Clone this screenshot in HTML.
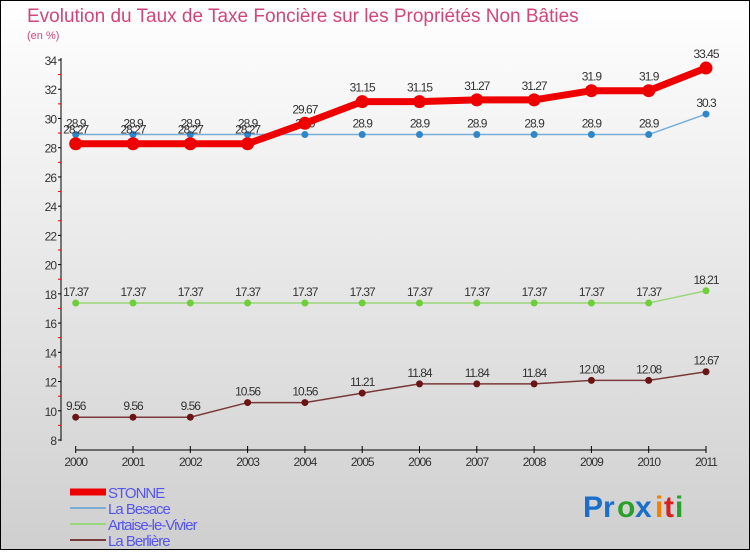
<!DOCTYPE html>
<html><head><meta charset="utf-8"><style>
body{margin:0;width:750px;height:550px;overflow:hidden;font-family:"Liberation Sans",sans-serif}
</style></head><body>
<svg width="750" height="550" xmlns="http://www.w3.org/2000/svg">
<defs><linearGradient id="bg" x1="0" y1="0" x2="0" y2="1"><stop offset="0" stop-color="#ffffff"/><stop offset="1" stop-color="#cfcfcf"/></linearGradient></defs>
<rect x="0.5" y="0.5" width="749" height="549" fill="url(#bg)" stroke="#000"/>
<text x="27" y="22" font-size="19" fill="#d2457a">Evolution du Taux de Taxe Foncière sur les Propriétés Non Bâties</text>
<text x="27" y="39" font-size="11" fill="#d2457a">(en %)</text>
<g id="axes"></g><g id="series"></g><g id="legend"></g>
<g font-size="30" font-weight="bold">
<text x="583" y="517" fill="#1a6fc9">Pr</text><text x="617" y="517" fill="#2aa02a">o</text><text x="635" y="517" fill="#1a6fc9">x</text><text x="655" y="517" fill="#f07f00">i</text><text x="664" y="517" fill="#d62020">t</text><text x="675" y="517" fill="#2aa02a">i</text>
</g>
</svg>
<script>
const years=[2000,2001,2002,2003,2004,2005,2006,2007,2008,2009,2010,2011];
const stonne=[28.27,28.27,28.27,28.27,29.67,31.15,31.15,31.27,31.27,31.9,31.9,33.45];
const besace=[28.9,28.9,28.9,28.9,28.9,28.9,28.9,28.9,28.9,28.9,28.9,30.3];
const artaise=[17.37,17.37,17.37,17.37,17.37,17.37,17.37,17.37,17.37,17.37,17.37,18.21];
const berliere=[9.56,9.56,9.56,10.56,10.56,11.21,11.84,11.84,11.84,12.08,12.08,12.67];
const yTicks=[8,10,12,14,16,18,20,22,24,26,28,30,32,34];
const NS="http://www.w3.org/2000/svg";
const X=i=>75.7+i*57.3, Y=v=>440-(v-8)*380/26;
function mk(t,a,p){const e=document.createElementNS(NS,t);for(const k in a)e.setAttribute(k,a[k]);p.appendChild(e);return e;}
const ax=document.getElementById('axes');
let l=mk('line',{x1:61,y1:58,x2:61,y2:441,stroke:'#000','stroke-width':1},ax);


yTicks.forEach(v=>{mk('line',{x1:58,x2:61,y1:Y(v),y2:Y(v),stroke:'#000'},ax);
 if(v<34)mk('line',{x1:58,x2:61,y1:Y(v+1),y2:Y(v+1),stroke:'#e00'},ax);
 const t=mk('text',{x:56,y:Y(v)+5,'font-size':12,'text-anchor':'end',fill:'#333','letter-spacing':'-1'},ax);t.textContent=v;
 
 });
l=mk('line',{x1:X(0),y1:450,x2:X(11),y2:450,stroke:'#000'},ax);


years.forEach((y,i)=>{mk('line',{x1:X(i),x2:X(i),y1:446,y2:453,stroke:'#000'},ax);
 const t=mk('text',{x:X(i),y:466,'font-size':12,'text-anchor':'middle',fill:'#333','letter-spacing':'-1'},ax);t.textContent=y;
 
 });
const sg=document.getElementById('series');
const S=[
 {n:'berliere',d:berliere,c:'#7a3a3a',m:'#6a1515',w:1.5,r:3.5},
 {n:'artaise',d:artaise,c:'#9ad67a',m:'#6fcf3a',w:1.5,r:3.5},
 {n:'besace',d:besace,c:'#7aaed6',m:'#2f86c8',w:1.5,r:3.5},
 {n:'stonne',d:stonne,c:'#ee0000',m:'#ee0000',w:7,r:6.5}];
S.forEach(s=>{const g=mk('g',{},sg);
 
 
 mk('polyline',{points:s.d.map((v,i)=>X(i)+','+Y(v)).join(' '),fill:'none',stroke:s.c,'stroke-width':s.w},g);
 s.d.forEach((v,i)=>{const c=mk('circle',{cx:X(i),cy:Y(v),r:s.r,fill:s.m},g);
  
  
  const t=mk('text',{x:X(i),y:Y(v)-(s.n=='stonne'?10:7),'font-size':12,'text-anchor':'middle',fill:'#333','letter-spacing':'-1'},g);t.textContent=v;
  
  });});
const lg=document.getElementById('legend');
[['STONNE','#ee0000',7],['La Besace','#7aaed6',2],['Artaise-le-Vivier','#9ad67a',2],['La Berlière','#7a3a3a',2]].forEach((e,i)=>{
 const y=492+i*16;
 const g=mk('g',{},lg);
 
 
 mk('line',{x1:70,x2:106,y1:y,y2:y,stroke:e[1],'stroke-width':e[2]},g);
 const t=mk('text',{x:108,y:y+6,'font-size':15,fill:'#5555ee','letter-spacing':'-1'},g);t.textContent=e[0];});
</script>
</body></html>
